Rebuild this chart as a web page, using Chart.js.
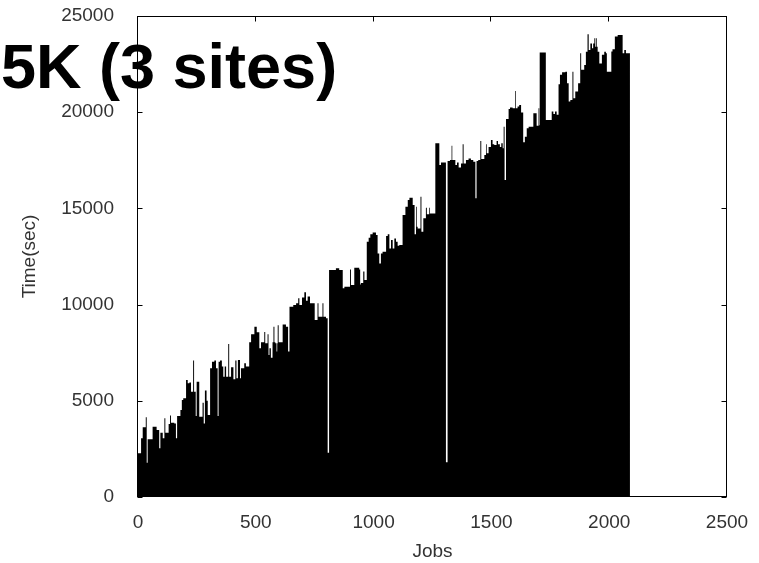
<!DOCTYPE html>
<html>
<head>
<meta charset="utf-8">
<title>5K (3 sites)</title>
<script src="https://cdn.jsdelivr.net/npm/chart.js@4.4.1/dist/chart.umd.min.js"></script>
<style>
  html, body { margin: 0; padding: 0; background: #fff; }
  #wrap { width: 759px; height: 563px; }
</style>
</head>
<body>
<div id="wrap"><canvas id="chart" width="759" height="563"></canvas></div>
<script>
// completion time per job: each entry starts a run of jobs at that time
const jobs1  = [0, 13, 20, 33, 37, 41, 62, 79, 90, 95, 105, 112, 116, 130, 136, 140, 154, 161, 166, 180,
                186, 192, 204, 211, 218, 225, 234, 238, 245, 249, 260, 274, 279, 284, 291, 296, 306, 314, 324, 331,
                338, 342, 348, 356, 362, 368, 374, 383, 387, 395, 405, 413];
const times1 = [2270, 3050, 3620, 4140, 1780, 3000, 3650, 3480, 2530, 3340, 3050, 4090, 3340, 3800, 4230, 3860, 3820, 3050, 4210, 4520,
                5040, 5130, 6080, 5910, 5950, 5470, 7090, 5470, 4210, 5990, 4170, 4900, 3820, 5530, 5000, 4260, 6690, 7030, 7090, 6690,
                4210, 7030, 7090, 6780, 6250, 6780, 6250, 7950, 6250, 6740, 6120, 7090];

const jobs2  = [418, 424, 433, 437, 451, 458, 472, 480, 494, 504, 515, 522, 536, 540, 550, 554, 558, 564, 571, 575,
                579, 583, 588, 591, 593, 597, 614, 628, 637, 643, 659, 671, 680, 685, 696, 706, 713, 720, 730, 750,
                762, 766, 783, 787, 798, 805];
const times2 = [6170, 7120, 6170, 6690, 6950, 6780, 8040, 8460, 8850, 8560, 7730, 8040, 8580, 7990, 8460, 7380, 7730, 7240, 8040, 8850,
                8040, 7990, 7560, 7990, 8930, 8040, 8970, 8850, 7560, 9890, 9980, 10070, 10330, 9980, 10370, 10640, 10200, 10420, 10070, 9200,
                10070, 9370, 10070, 9370, 9290, 2300];

const jobs3  = [811, 840, 854, 869, 876, 900, 904, 918, 939, 943, 946, 956, 961, 971, 979, 986, 996, 1010, 1017, 1024,
                1031, 1038, 1053, 1060, 1067, 1074, 1081, 1088, 1095, 1102, 1109, 1123, 1135, 1145, 1152, 1166, 1174, 1180, 1183, 1187,
                1199, 1203, 1211, 1222, 1226, 1236, 1239, 1262, 1279, 1286, 1307];
const times3 = [11800, 11890, 11800, 10850, 10930, 11820, 11020, 11920, 11820, 11050, 11120, 11720, 11280, 13270, 13480, 13650, 13750, 13620, 12660, 12140,
                12660, 12750, 13560, 13650, 12920, 13360, 12920, 13440, 13270, 13060, 13100, 14660, 15090, 15440, 15560, 15180, 13650, 15090, 14050, 13960,
                15610, 13790, 14490, 15040, 14690, 15040, 14740, 18380, 17260, 17390, 1800];

const jobs4  = [1314, 1324, 1331, 1334, 1347, 1354, 1361, 1371, 1378, 1382, 1392, 1403, 1413, 1423, 1432, 1437, 1444, 1453, 1457, 1470,
                1477, 1480, 1488, 1498, 1505, 1512, 1522, 1528, 1536, 1542, 1548, 1552, 1556, 1562, 1573, 1579, 1590, 1601, 1604, 1611,
                1618, 1626, 1635, 1642, 1650, 1658, 1678, 1692, 1700, 1703, 1705, 1731, 1756, 1763, 1770, 1777, 1785, 1791, 1800, 1814,
                1821, 1828, 1835, 1844, 1848, 1856, 1868, 1877, 1881, 1894, 1901, 1908, 1913, 1920, 1927, 1932, 1937, 1941, 1944, 1947,
                1951, 1958, 1969, 1979, 1986, 1990, 2009, 2014, 2024, 2036, 2057, 2064, 2071, 2088];
const times4 = [17470, 17510, 18260, 17510, 17260, 17390, 17120, 17340, 18330, 17340, 17510, 17600, 17510, 17420, 15530, 17470, 17510, 18500, 17570, 17780,
                18330, 17860, 18190, 18560, 18330, 18300, 18500, 18330, 18190, 18380, 18120, 19250, 16480, 19650, 20170, 20240, 20210, 21100, 20210, 20290,
                20380, 19980, 18440, 18730, 19160, 19250, 19940, 19300, 20210, 19320, 23100, 19600, 20030, 19900, 20030, 19870, 21450, 21940, 22070, 22100,
                21500, 20550, 20630, 22100, 20720, 21070, 21500, 23060, 22200, 22450, 23140, 24050, 23230, 23570, 23320, 23570, 23840, 23400, 23840, 23400,
                23140, 22530, 22990, 23140, 23060, 22100, 23160, 23270, 23930, 24010, 23060, 23230, 23060, 23060];

const xTicks = [0, 500, 1000, 1500, 2000, 2500];
const yTicks = [0, 5000, 10000, 15000, 20000, 25000];
const titleText = '5K (3 sites)';

const jobs = jobs1.concat(jobs2, jobs3, jobs4);
const times = times1.concat(times2, times3, times4);
const points = jobs.map((j, i) => ({ x: j, y: times[i] }));

const TEXT = '#333';
const FONT = '"Liberation Sans", Arial, sans-serif';
const TICK = 5;

// box around the plot with gnuplot-style inward ticks on every side
const framePlugin = {
  id: 'frame',
  afterDatasetsDraw(chart) {
    const { ctx, chartArea: a, scales } = chart;
    const l = Math.round(a.left) - 0.5, r = Math.round(a.right) - 0.5;
    const t = Math.round(a.top) + 0.5, b = Math.round(a.bottom) - 0.5;
    ctx.save();
    ctx.strokeStyle = '#000';
    ctx.lineWidth = 1;
    ctx.strokeRect(l, t, r - l, b - t);
    ctx.beginPath();
    xTicks.forEach(v => {
      const x = Math.round(scales.x.getPixelForValue(v)) - 0.5;
      ctx.moveTo(x, b); ctx.lineTo(x, b - TICK);
      ctx.moveTo(x, t); ctx.lineTo(x, t + TICK);
    });
    yTicks.forEach(v => {
      const y = Math.round(scales.y.getPixelForValue(v)) + 0.5;
      ctx.moveTo(l, y); ctx.lineTo(l + TICK, y);
      ctx.moveTo(r, y); ctx.lineTo(r - TICK, y);
    });
    ctx.stroke();
    ctx.restore();
  }
};

// big slide title laid over the top-left of the plot
const titlePlugin = {
  id: 'bigTitle',
  afterDraw(chart) {
    const ctx = chart.ctx;
    ctx.save();
    ctx.fillStyle = '#000';
    ctx.font = 'bold 63px ' + FONT;
    ctx.textAlign = 'left';
    ctx.textBaseline = 'alphabetic';
    ctx.fillText(titleText, 1, 88);
    ctx.restore();
  }
};

new Chart(document.getElementById('chart'), {
  type: 'line',
  data: {
    datasets: [{
      data: points,
      stepped: 'before',
      fill: 'origin',
      backgroundColor: '#000',
      borderColor: '#000',
      borderWidth: 0,
      pointRadius: 0,
      tension: 0
    }]
  },
  options: {
    responsive: false,
    animation: false,
    devicePixelRatio: 1,
    layout: { padding: { left: 0, right: 32, top: 16, bottom: 0 } },
    plugins: {
      legend: { display: false },
      tooltip: { enabled: false }
    },
    scales: {
      x: {
        type: 'linear',
        min: 0,
        max: 2500,
        afterBuildTicks: s => { s.ticks = xTicks.map(v => ({ value: v })); },
        afterFit: s => { s.height = 66; s.paddingLeft = 0; s.paddingRight = 0; },
        grid: { display: false },
        border: { display: false },
        ticks: { color: TEXT, font: { family: FONT, size: 19 }, padding: 6, maxRotation: 0, callback: v => String(v) },
        title: { display: true, text: 'Jobs', color: TEXT, font: { family: FONT, size: 19 }, padding: { top: 0, bottom: 0 } }
      },
      y: {
        type: 'linear',
        min: 0,
        max: 25000,
        afterBuildTicks: s => { s.ticks = yTicks.map(v => ({ value: v })); },
        afterFit: s => { s.width = 138; s.paddingTop = 0; s.paddingBottom = 0; },
        grid: { display: false },
        border: { display: false },
        ticks: { color: TEXT, font: { family: FONT, size: 19 }, padding: 16, callback: v => String(v) },
        title: { display: true, text: 'Time(sec)', color: TEXT, font: { family: FONT, size: 19 }, padding: { top: 18, bottom: 0 } }
      }
    }
  },
  plugins: [framePlugin, titlePlugin]
});
</script>
</body>
</html>
